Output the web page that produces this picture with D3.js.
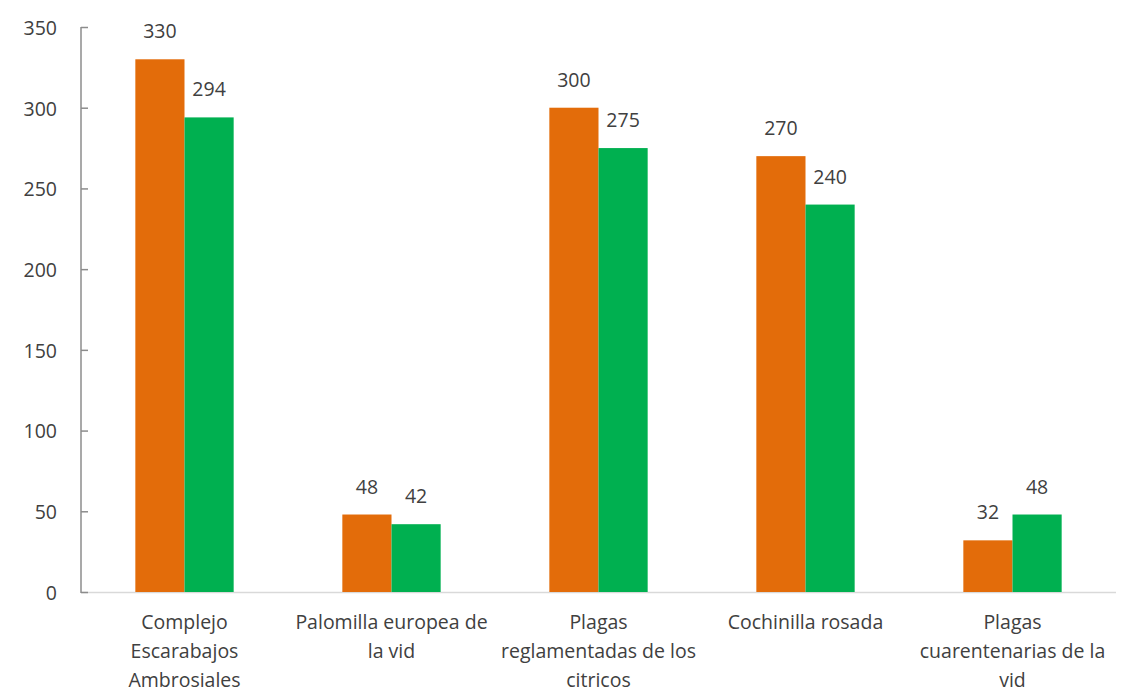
<!DOCTYPE html>
<html><head><meta charset="utf-8">
<script src="https://cdn.jsdelivr.net/npm/d3@7"></script>
<style>body{margin:0;background:#fff}svg{display:block}text{font-family:"Open Sans",sans-serif}</style>
</head><body><svg id="c" width="1125" height="693"></svg>
<script>
const categories = ["Complejo Escarabajos Ambrosiales","Palomilla europea de la vid","Plagas reglamentadas de los citricos","Cochinilla rosada","Plagas cuarentenarias de la vid"];
const categoryLines = [["Complejo","Escarabajos","Ambrosiales"],["Palomilla europea de","la vid"],["Plagas","reglamentadas de los","citricos"],["Cochinilla rosada"],["Plagas","cuarentenarias de la","vid"]];
const seriesA = [330, 48, 300, 270, 32];
const seriesB = [294, 42, 275, 240, 48];
const yTicks = [0, 50, 100, 150, 200, 250, 300, 350];
const colors = ["#E36C0A", "#00B050"];

(function(){
const svg = d3.select("#c");
const mL = 81, mR = 1116, mT = 27, mB = 592;
const fs = 19.5;
const x = d3.scaleBand().domain(categories).range([mL, mR]).paddingInner(0.525).paddingOuter(0.2625);
const xs = d3.scaleBand().domain([0,1]).range([0, x.bandwidth()]);
const y = d3.scaleLinear().domain([0, 350]).range([mB, mT]);

svg.append("line").attr("x1", mL).attr("x2", mR).attr("y1", mB+0.5).attr("y2", mB+0.5).attr("stroke", "#d9d9d9").attr("stroke-width", 1.5);

const series = [seriesA, seriesB];
series.forEach((vals, si) => {
  svg.append("g").selectAll("rect").data(vals).join("rect")
    .attr("x", (d,i) => x(categories[i]) + xs(si))
    .attr("width", xs.bandwidth())
    .attr("y", d => y(d))
    .attr("height", d => y(0) - y(d))
    .attr("fill", colors[si]);
  svg.append("g").selectAll("text").data(vals).join("text")
    .attr("x", (d,i) => x(categories[i]) + xs(si) + xs.bandwidth()/2)
    .attr("y", d => y(d) - 21)
    .attr("text-anchor", "middle")
    .attr("font-size", fs)
    .attr("fill", "#404040")
    .text(d => d);
});

const ya = d3.axisRight(y).tickValues(yTicks).tickSize(7).tickFormat("");
const gy = svg.append("g").attr("transform", `translate(${mL},0)`).call(ya);
gy.selectAll("line").attr("stroke", "#8c8c8c").attr("stroke-width", 1.5);
gy.select("path").remove();
svg.append("line").attr("x1", mL).attr("x2", mL).attr("y1", y(350)).attr("y2", mB+1).attr("stroke", "#8c8c8c").attr("stroke-width", 1.5);
svg.append("g").selectAll("text").data(yTicks).join("text")
  .attr("x", 57).attr("y", d => y(d) + 1).attr("dy", "0.35em")
  .attr("text-anchor", "end").attr("font-size", fs).attr("fill", "#404040")
  .text(d => d);

categoryLines.forEach((lines, i) => {
  const t = svg.append("text").attr("text-anchor", "middle").attr("font-size", fs).attr("fill", "#404040");
  lines.forEach((ln, j) => {
    t.append("tspan").attr("x", x(categories[i]) + x.bandwidth()/2).attr("y", 629 + j*29).text(ln);
  });
});
})();
</script></body></html>
